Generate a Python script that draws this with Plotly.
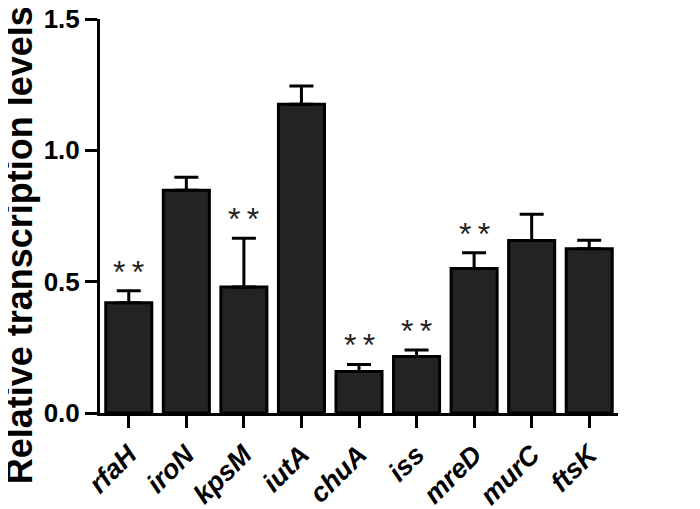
import plotly.graph_objects as go

genes = ["rfaH", "iroN", "kpsM", "iutA", "chuA", "iss", "mreD", "murC", "ftsK"]
values = [0.42, 0.848, 0.48, 1.175, 0.158, 0.215, 0.55, 0.657, 0.625]
errors = [0.045, 0.05, 0.185, 0.07, 0.027, 0.025, 0.06, 0.10, 0.033]
significance = ["**", "", "**", "", "**", "**", "**", "", ""]
y_ticks = [0.0, 0.5, 1.0, 1.5]
y_ticklabels = ["0.0", "0.5", "1.0", "1.5"]

FONT = "Liberation Sans, Arial, Helvetica, sans-serif"

fig = go.Figure()
fig.add_trace(go.Bar(
    x=genes,
    y=values,
    width=0.8,
    marker=dict(color="#232323", line=dict(color="black", width=3)),
    error_y=dict(type="data", array=errors, arrayminus=[0] * len(errors),
                 symmetric=False, color="black", thickness=3, width=12),
    showlegend=False,
))

for g, v, e, s in zip(genes, values, errors, significance):
    if s:
        fig.add_annotation(
            x=g, y=v + e, xref="x", yref="y",
            text="\u2009".join(list(s)), showarrow=False,
            yanchor="bottom", yshift=-1,
            font=dict(family=FONT, size=32, color="#222222"),
        )

fig.add_annotation(
    x=-0.156, y=0.426, xref="paper", yref="paper",
    text="<b>Relative transcription levels</b>", showarrow=False,
    textangle=-90, xanchor="center", yanchor="middle",
    font=dict(family=FONT, size=36, color="black"),
)

fig.update_layout(
    width=700, height=509,
    margin=dict(l=92, r=90, t=11, b=104, autoexpand=False),
    plot_bgcolor="white", paper_bgcolor="white",
    bargap=0.2,
    xaxis=dict(
        range=[-0.5, 8.5], automargin=False,
        showline=True, linecolor="black", linewidth=3,
        ticks="outside", ticklen=12, tickwidth=3, tickcolor="black",
        tickangle=-45,
        tickvals=genes,
        ticktext=[f"<b><i>{g}</i></b>" for g in genes],
        tickfont=dict(family=FONT, size=27, color="black"),
        ticklabeloverflow="allow",
        showgrid=False, zeroline=False,
    ),
    yaxis=dict(
        range=[0, 1.5], automargin=False,
        showline=True, linecolor="black", linewidth=3,
        ticks="outside", ticklen=12, tickwidth=3, tickcolor="black",
        tickvals=y_ticks,
        ticktext=[f"<b>{t}</b>" for t in y_ticklabels],
        tickfont=dict(family=FONT, size=26, color="black"),
        ticklabeloverflow="allow",
        showgrid=False, zeroline=False,
    ),
)

fig.write_html("out.html")
